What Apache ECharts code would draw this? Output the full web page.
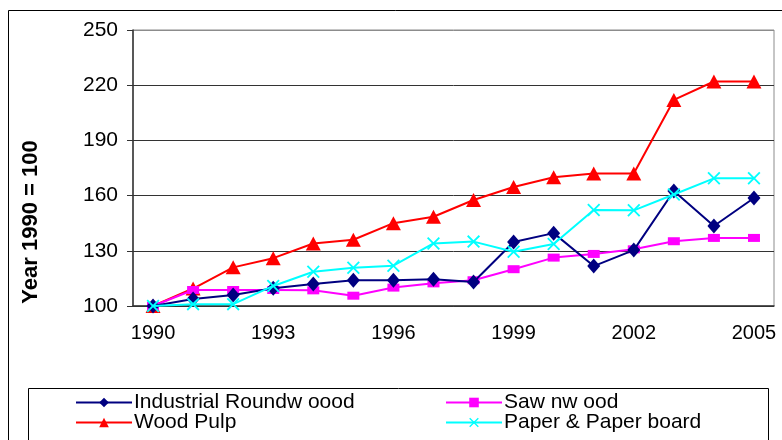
<!DOCTYPE html>
<html><head><meta charset="utf-8">
<script src="https://cdn.jsdelivr.net/npm/echarts@6/dist/echarts.min.js"></script>
<style>html,body{margin:0;padding:0;background:#fff}#c{width:782px;height:440px}</style>
</head><body><div id="c"></div>
<script>
const years = ['1990','1991','1992','1993','1994','1995','1996','1997','1998','1999','2000','2001','2002','2003','2004','2005'];
const industrialRoundwood = [100,103.8,106,109.6,112,114,114,114.5,113,134.8,139.6,121.7,130.4,162.5,143.5,158.7];
const sawnwood = [100,108.7,108.7,108.7,108.5,105.6,110,112.3,114,120,126.3,128.3,130.8,135.2,137,137];
const woodPulp = [100,109.5,121,126,134,136,145,148.5,157.6,164.7,170,172,172,212,222,222];
const paperBoard = [100,101,101,110.9,118.6,120.8,121.9,134,135,129.5,133.7,152.2,152,160.6,169.4,169.4];
const seriesNames = ['Industrial Roundw oood','Saw nw ood','Wood Pulp','Paper & Paper board'];
const yTitle = 'Year 1990 = 100';
const yTicks = {min:100, max:250, interval:30};

const FONT = '"Liberation Sans", Arial, sans-serif';
const xPath = 'path://M0,1L1,0L5,4L9,0L10,1L6,5L10,9L9,10L5,6L1,10L0,9L4,5Z';
const chart = echarts.init(document.getElementById('c'), null, {renderer:'canvas'});
const txt = {fontFamily:FONT, fontSize:20, color:'#000'};
function lg(name, left, top){
  return {data:[name], left:left, top:top, orient:'horizontal', itemWidth:56, itemHeight:12, itemGap:0,
    textStyle:Object.assign({}, txt, {fontSize:21, padding:[0,0,0,-3]}), padding:0, selectedMode:false};
}
chart.setOption({
  animation:false,
  backgroundColor:'#fff',
  grid:{left:133, right:8, top:30, bottom:134, show:true, borderColor:'#8c8c8c', borderWidth:1},
  xAxis:{type:'category', data:years, boundaryGap:true,
    axisLine:{lineStyle:{color:'#333', width:1.5}},
    axisTick:{interval:0, length:6, lineStyle:{color:'#333'}},
    axisLabel:Object.assign({}, txt, {interval:2, margin:17})},
  yAxis:{type:'value', min:yTicks.min, max:yTicks.max, interval:yTicks.interval,
    axisLine:{show:true, lineStyle:{color:'#333', width:1.5}},
    axisTick:{show:true, length:6, lineStyle:{color:'#333'}},
    axisLabel:Object.assign({}, txt, {fontSize:21, margin:15}),
    splitLine:{show:true, lineStyle:{color:['#333','#333','#333','#333','#333','#8c8c8c'], width:1}}},
  legend:[lg(seriesNames[0],75,392), lg(seriesNames[1],445,392), lg(seriesNames[2],75,412), lg(seriesNames[3],445,412)],
  graphic:[
    {type:'rect', shape:{x:8.5, y:10.5, width:800, height:500}, style:{fill:null, stroke:'#000', lineWidth:1}, z:-1},
    {type:'rect', shape:{x:28.5, y:388.5, width:740, height:80}, style:{fill:null, stroke:'#000', lineWidth:1}, z:-1},
    {type:'text', x:31, y:222, rotation:Math.PI/2,
      style:{text:yTitle, fontFamily:FONT, fontSize:22, fontWeight:'bold', fill:'#000', align:'center', verticalAlign:'middle'}}
  ],
  series:[
    {name:seriesNames[0], type:'line', data:industrialRoundwood, symbol:'diamond', symbolSize:[13,15],
      lineStyle:{color:'#000080', width:2}, itemStyle:{color:'#000080'}, z:4},
    {name:seriesNames[1], type:'line', data:sawnwood, symbol:'rect', symbolSize:[12,8],
      lineStyle:{color:'#ff00ff', width:2}, itemStyle:{color:'#ff00ff'}, z:3},
    {name:seriesNames[2], type:'line', data:woodPulp, symbol:'triangle', symbolSize:[15,14],
      lineStyle:{color:'#ff0000', width:2}, itemStyle:{color:'#ff0000'}, z:2},
    {name:seriesNames[3], type:'line', data:paperBoard, symbol:xPath, symbolSize:13,
      lineStyle:{color:'#00ffff', width:2}, itemStyle:{color:'#00ffff'}, z:5}
  ]
});
</script></body></html>
